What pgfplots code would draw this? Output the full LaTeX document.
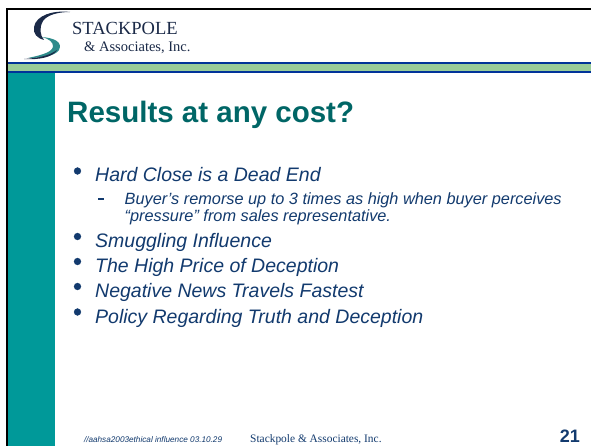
\documentclass[border=0pt]{standalone}
\usepackage{pgfplots}
\pgfplotsset{compat=1.18}
\usepackage{fontspec}
\setmainfont{Liberation Sans}
\newfontfamily\serif{Liberation Serif}
\definecolor{tealbar}{HTML}{009999}
\definecolor{bandgreen}{HTML}{99CC99}
\definecolor{bandnavy}{HTML}{003399}
\definecolor{titleteal}{HTML}{006666}
\definecolor{txtnavy}{HTML}{123A6E}
\definecolor{logonavy}{HTML}{1B2A48}
\definecolor{logoteal}{HTML}{2E8B8B}
\begin{document}
\begin{tikzpicture}
\begin{axis}[
  scale only axis, width=591pt, height=446pt,
  xmin=0, xmax=591, ymin=0, ymax=446, y dir=reverse,
  hide axis, clip=false,
]
% page and frame
\addplot[draw=none, fill=white] coordinates {(0,0) (591,0) (591,446) (0,446)};
\addplot[draw=none, fill=black] coordinates {(6,8.3) (591,8.3) (591,10.3) (6,10.3)};
\addplot[draw=none, fill=black] coordinates {(6,8.3) (8,8.3) (8,446) (6,446)};
% header band
\addplot[draw=none, fill=bandnavy] coordinates {(8,62) (591,62) (591,73.3) (8,73.3)};
\addplot[draw=none, fill=bandgreen] coordinates {(8,64) (591,64) (591,71) (8,71)};
% left teal bar
\addplot[draw=none, fill=tealbar] coordinates {(8,73.3) (55,73.3) (55,446) (8,446)};

% logo swirl
\fill[logonavy] (axis cs:70,12) .. controls (axis cs:54,10) and (axis cs:36,15) .. (axis cs:34,27)
  .. controls (axis cs:33,34) and (axis cs:37,38) .. (axis cs:44,40)
  .. controls (axis cs:40,35) and (axis cs:39,28) .. (axis cs:43,21)
  .. controls (axis cs:47,15) and (axis cs:58,12) .. (axis cs:70,12) -- cycle;
\fill[logoteal] (axis cs:42,37) .. controls (axis cs:54,38) and (axis cs:63,42) .. (axis cs:59,50)
  .. controls (axis cs:55,56) and (axis cs:42,58) .. (axis cs:28,58)
  .. controls (axis cs:42,55) and (axis cs:53,52) .. (axis cs:53,46)
  .. controls (axis cs:53,42) and (axis cs:49,39) .. (axis cs:42,37) -- cycle;
\fill[logonavy] (axis cs:57,50) .. controls (axis cs:53,57) and (axis cs:40,60) .. (axis cs:24,59)
  .. controls (axis cs:38,58) and (axis cs:49,56) .. (axis cs:57,50) -- cycle;
\node[anchor=base west, inner sep=0, text=logonavy, font=\serif\fontsize{18.5}{20}\selectfont]
  at (axis cs:72,35) {STACKPOLE};
\node[anchor=base west, inner sep=0, text=logonavy, font=\serif\fontsize{14.5}{16}\selectfont]
  at (axis cs:84,52) {\& Associates, Inc.};

% title
\node[anchor=base west, inner sep=0, text=titleteal, font=\fontsize{29.5}{34}\selectfont\bfseries]
  at (axis cs:67,123) {Results at any cost?};

% bullets
\addplot[only marks, mark=*, mark size=3.4pt, color=txtnavy]
  coordinates {(77.5,171) (77.5,236.5) (77.5,261.5) (77.5,286.5) (77.5,312)};
\addplot[color=txtnavy, line width=1.2pt] coordinates {(98,199) (103.5,199)};

\node[anchor=base west, inner sep=0, text=txtnavy, font=\fontsize{19.5}{23}\selectfont\itshape]
  at (axis cs:95,182) {Hard Close is a Dead End};
\node[anchor=base west, inner sep=0, text=txtnavy, font=\fontsize{16.3}{19}\selectfont\itshape]
  at (axis cs:124.5,204.5) {Buyer’s remorse up to 3 times as high when buyer perceives};
\node[anchor=base west, inner sep=0, text=txtnavy, font=\fontsize{16.3}{19}\selectfont\itshape]
  at (axis cs:124.5,221.5) {“pressure” from sales representative.};
\node[anchor=base west, inner sep=0, text=txtnavy, font=\fontsize{19.5}{23}\selectfont\itshape]
  at (axis cs:95,247.5) {Smuggling Influence};
\node[anchor=base west, inner sep=0, text=txtnavy, font=\fontsize{19.5}{23}\selectfont\itshape]
  at (axis cs:95,272.5) {The High Price of Deception};
\node[anchor=base west, inner sep=0, text=txtnavy, font=\fontsize{19.5}{23}\selectfont\itshape]
  at (axis cs:95,297.5) {Negative News Travels Fastest};
\node[anchor=base west, inner sep=0, text=txtnavy, font=\fontsize{19.5}{23}\selectfont\itshape]
  at (axis cs:95,323) {Policy Regarding Truth and Deception};

% footer
\node[anchor=base west, inner sep=0, text=txtnavy, font=\fontsize{8.2}{10}\selectfont\itshape]
  at (axis cs:83.8,442) {//aahsa2003ethical influence 03.10.29};
\node[anchor=base west, inner sep=0, text=txtnavy, font=\serif\fontsize{11.4}{13}\selectfont]
  at (axis cs:250,442) {Stackpole \& Associates, Inc.};
\node[anchor=base east, inner sep=0, text=txtnavy, font=\fontsize{18}{20}\selectfont\bfseries]
  at (axis cs:580,442) {21};
\end{axis}
\end{tikzpicture}
\end{document}
